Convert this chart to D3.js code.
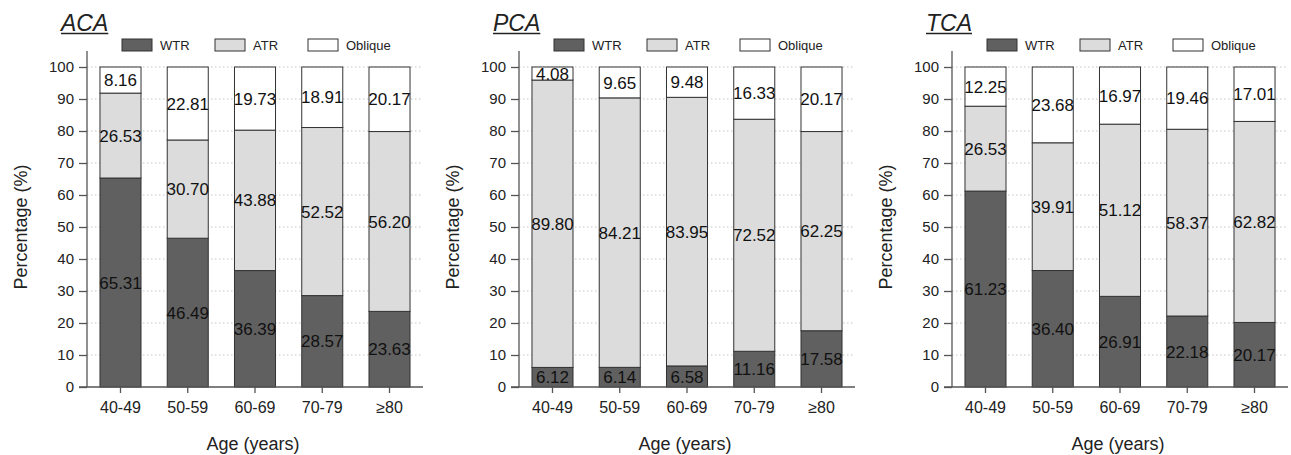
<!DOCTYPE html>
<html>
<head>
<meta charset="utf-8">
<script src="https://cdn.jsdelivr.net/npm/d3@7"></script>
<style>
  body { margin: 0; background: #fff; }
  svg { font-family: "Liberation Sans", Arial, sans-serif; }
</style>
</head>
<body>
<svg id="chart"></svg>
<script>
// data
const ageGroups = ['40-49', '50-59', '60-69', '70-79', '≥80'];
const seriesNames = ['WTR', 'ATR', 'Oblique'];
const yTicks = [0, 10, 20, 30, 40, 50, 60, 70, 80, 90, 100];

const acaWTR = [65.31, 46.49, 36.39, 28.57, 23.63];
const acaATR = [26.53, 30.70, 43.88, 52.52, 56.20];
const acaOblique = [8.16, 22.81, 19.73, 18.91, 20.17];

const pcaWTR = [6.12, 6.14, 6.58, 11.16, 17.58];
const pcaATR = [89.80, 84.21, 83.95, 72.52, 62.25];
const pcaOblique = [4.08, 9.65, 9.48, 16.33, 20.17];

const tcaWTR = [61.23, 36.40, 26.91, 22.18, 20.17];
const tcaATR = [26.53, 39.91, 51.12, 58.37, 62.82];
const tcaOblique = [12.25, 23.68, 16.97, 19.46, 17.01];

const panels = [
  {title: 'ACA', series: [acaWTR, acaATR, acaOblique]},
  {title: 'PCA', series: [pcaWTR, pcaATR, pcaOblique]},
  {title: 'TCA', series: [tcaWTR, tcaATR, tcaOblique]}
];

const colors = {WTR: '#606060', ATR: '#dcdcdc', Oblique: '#ffffff'};

const width = 1291, height = 455;
const plotW = 336, plotH = 336;
const marginTop = 51;
const panelLeft = [87, 519, 952];

const svg = d3.select('#chart')
  .attr('width', width)
  .attr('height', height);

const x = d3.scaleBand()
  .domain(ageGroups)
  .range([0, plotW])
  .paddingInner(0.39)
  .paddingOuter(0.193);

const y = d3.scaleLinear()
  .domain([0, 105])
  .range([plotH, 0]);

const color = d3.scaleOrdinal().domain(seriesNames).range(seriesNames.map(s => colors[s]));

panels.forEach((p, i) => {
  const g = svg.append('g')
    .attr('transform', `translate(${panelLeft[i]},${marginTop})`);

  // table for the stack; every bar is drawn as a full 100% column
  const rows = ageGroups.map((a, j) => {
    const r = {age: a, raw: {}};
    const total = d3.sum(p.series, s => s[j]);
    seriesNames.forEach((s, k) => {
      r.raw[s] = p.series[k][j];
      r[s] = p.series[k][j] / total * 100;
    });
    return r;
  });
  const stacked = d3.stack().keys(seriesNames)(rows);

  // dotted grid lines
  g.append('g')
    .selectAll('line')
    .data(yTicks.filter(t => t > 0))
    .join('line')
      .attr('x1', 0)
      .attr('x2', plotW)
      .attr('y1', d => y(d))
      .attr('y2', d => y(d))
      .attr('stroke', '#c4c4c4')
      .attr('stroke-width', 1)
      .attr('stroke-dasharray', '1.5,2.5');

  // bars
  const layer = g.append('g')
    .selectAll('g')
    .data(stacked)
    .join('g')
      .attr('fill', d => color(d.key));

  layer.selectAll('rect')
    .data(d => d)
    .join('rect')
      .attr('x', d => x(d.data.age))
      .attr('y', d => y(d[1]))
      .attr('width', x.bandwidth())
      .attr('height', d => y(d[0]) - y(d[1]))
      .attr('stroke', '#333')
      .attr('stroke-width', 1);

  // value labels in the middle of each segment
  layer.selectAll('text')
    .data(d => d.map(v => ({v, key: d.key})))
    .join('text')
      .attr('x', d => x(d.v.data.age) + x.bandwidth() / 2)
      .attr('y', d => y((d.v[0] + d.v[1]) / 2))
      .attr('dy', '0.36em')
      .attr('text-anchor', 'middle')
      .attr('fill', '#111')
      .style('font-size', '17px')
      .text(d => d.v.data.raw[d.key].toFixed(2));

  // axes
  const yAxis = d3.axisLeft(y)
    .tickValues(yTicks)
    .tickSize(8)
    .tickPadding(5)
    .tickSizeOuter(0);
  const yAxisG = g.append('g').call(yAxis);
  yAxisG.select('.domain').attr('d', `M0,0V${plotH}`);

  const xAxis = d3.axisBottom(x)
    .tickSize(6)
    .tickPadding(9)
    .tickSizeOuter(0);
  const xAxisG = g.append('g')
    .attr('transform', `translate(0,${plotH})`)
    .call(xAxis);
  xAxisG.select('.domain').attr('d', `M-8,0H${plotW}`);

  [yAxisG, xAxisG].forEach(a => {
    a.selectAll('.domain').attr('stroke', '#555').attr('stroke-width', 1.3);
    a.selectAll('.tick line').attr('stroke', '#555').attr('stroke-width', 1.3);
    a.selectAll('.tick text').attr('fill', '#222');
  });
  yAxisG.selectAll('.tick text').style('font-size', '15px');
  xAxisG.selectAll('.tick text').style('font-size', '16px');

  // axis titles
  g.append('text')
    .attr('transform', `translate(-60,${y(50)}) rotate(-90)`)
    .attr('text-anchor', 'middle')
    .attr('fill', '#222')
    .style('font-size', '18px')
    .text('Percentage (%)');

  g.append('text')
    .attr('x', plotW / 2 - 2)
    .attr('y', plotH + 63)
    .attr('text-anchor', 'middle')
    .attr('fill', '#222')
    .style('font-size', '18px')
    .text('Age (years)');

  // panel title, italic and underlined
  const title = g.append('text')
    .attr('x', -26)
    .attr('y', -20)
    .attr('fill', '#222')
    .style('font-size', '23px')
    .style('font-style', 'italic')
    .text(p.title);
  const tw = title.node().getComputedTextLength();
  g.append('line')
    .attr('x1', -26)
    .attr('x2', -26 + tw)
    .attr('y1', -17.5)
    .attr('y2', -17.5)
    .attr('stroke', '#222')
    .attr('stroke-width', 1.5);

  // legend
  const legend = g.append('g')
    .attr('transform', 'translate(35,-12)')
    .selectAll('g')
    .data(seriesNames)
    .join('g')
      .attr('transform', (d, k) => `translate(${k * 93},0)`);
  legend.append('rect')
    .attr('width', 30)
    .attr('height', 12)
    .attr('fill', d => color(d))
    .attr('stroke', '#333')
    .attr('stroke-width', 1);
  legend.append('text')
    .attr('x', 38)
    .attr('y', 6)
    .attr('dy', '0.36em')
    .attr('fill', '#222')
    .style('font-size', '13px')
    .text(d => d);
});
</script>
</body>
</html>
